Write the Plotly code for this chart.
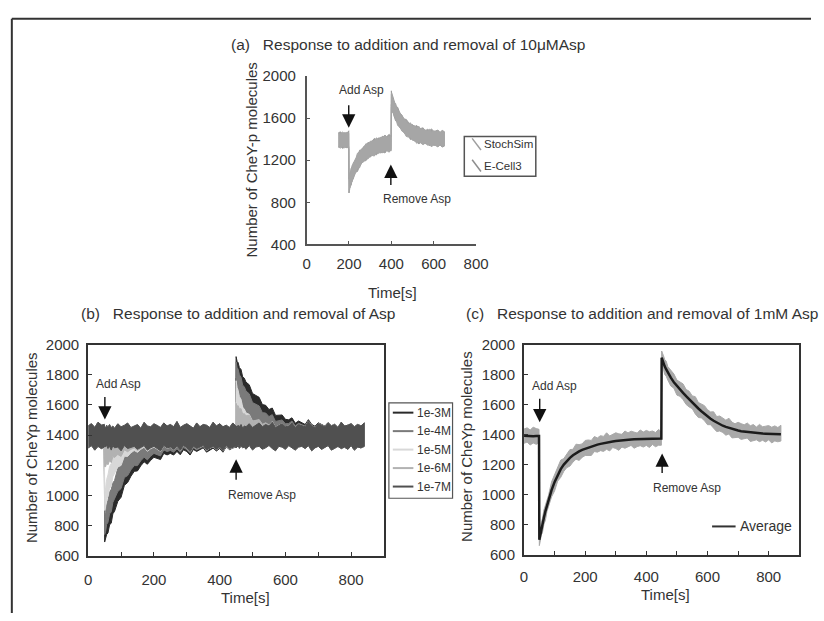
import plotly.graph_objects as go

W, H = 824, 621
FONT = "Liberation Sans, Arial, sans-serif"
TXT = "#333333"

def px(x):
    return x / W

def py(y):
    return 1 - y / H

# ---------------- (a) data: 10uM Asp, StochSim vs E-Cell3 ----------------
a_time = [150, 160, 170, 180, 190, 199,
          200, 202, 205, 210, 215, 220, 230, 240, 250, 260, 270, 280, 290, 300,
          310, 320, 330, 340, 350, 360, 370, 380, 390, 399,
          400, 402, 405, 410, 415, 420, 430, 440, 450, 460, 470, 480, 490, 500,
          510, 520, 530, 540, 550, 560, 570, 580, 590, 600, 610, 620, 630, 640, 650]
a_stochsim = [1395, 1390, 1392, 1388, 1394, 1395,
              950, 975, 1005, 1040, 1070, 1097,
              1140, 1178, 1210, 1236, 1257, 1275, 1290, 1303, 1314, 1323, 1331, 1338, 1344, 1349, 1354, 1358, 1361,
              1364,
              1785, 1765, 1740, 1710, 1683, 1660,
              1618, 1584, 1555, 1530, 1509, 1492, 1477, 1465, 1455, 1446, 1439, 1433, 1428, 1423, 1419, 1416,
              1413, 1411, 1409, 1407, 1406, 1405, 1404]
a_ecell3 = [1390, 1396, 1388, 1393, 1390, 1392,
            960, 985, 1012, 1045, 1075, 1100,
            1145, 1182, 1213, 1240, 1260, 1278, 1292, 1305, 1316, 1325, 1333, 1339, 1345, 1350, 1355, 1359, 1362,
            1365,
            1775, 1758, 1735, 1705, 1680, 1656,
            1615, 1580, 1552, 1528, 1507, 1490, 1476, 1464, 1454, 1445, 1438, 1432, 1427, 1422, 1418, 1415,
            1412, 1410, 1408, 1406, 1405, 1404, 1403]
# noise envelope above / below the trace
a_noise_up = [65, 80, 55, 75, 60, 85, 70, 55, 75, 60,
              80, 65, 70, 55, 85, 60, 75, 65, 80, 55,
              70, 85, 60, 75, 65, 80, 55, 70, 85, 60,
              75, 65, 80, 60, 70, 55, 85, 65, 75, 60,
              80, 70, 55, 75, 65, 85, 60, 70, 80, 55,
              75, 65, 85, 60, 70, 80, 55, 75, 65]
a_noise_dn = [70, 55, 80, 60, 75, 65, 60, 70, 55, 80,
              60, 75, 55, 85, 65, 70, 60, 80, 55, 75,
              65, 60, 80, 55, 75, 70, 85, 60, 65, 75,
              55, 80, 65, 70, 60, 85, 55, 75, 60, 70,
              65, 55, 80, 60, 75, 60, 85, 55, 70, 65,
              60, 80, 55, 70, 65, 75, 60, 80, 70]

# ---------------- (b)/(c) shared time grid ----------------
g_time = [0, 10, 20, 30, 40, 49,
          50, 53, 56, 60, 65, 70, 75, 80,
          90, 100, 110, 120, 130, 140, 150, 160, 170, 180, 190, 200, 210, 220, 230, 240, 250, 260,
          270, 280, 290, 300, 310, 320, 330, 340, 350, 360, 370, 380, 390, 400, 410, 420, 430, 440,
          449,
          450, 453, 456, 460, 465, 470, 475, 480,
          490, 500, 510, 520, 530, 540, 550, 560, 570, 580, 590, 600, 610, 620, 630, 640, 650, 660,
          670, 680, 690, 700, 710, 720, 730, 740, 750, 760, 770, 780, 790, 800, 810, 820, 830, 840]

b_labels = ["1e-3M", "1e-4M", "1e-5M", "1e-6M", "1e-7M"]
b_1e3 = ([1390, 1390, 1390, 1390, 1390, 1390] +
         [750, 770, 795, 830, 870, 905, 938, 968] +
         [1030, 1082, 1126, 1165, 1197, 1224, 1247, 1266, 1282, 1296, 1307, 1317, 1325, 1332, 1338, 1343,
          1348, 1352, 1356, 1359, 1362, 1365, 1367, 1369, 1371, 1373, 1375, 1376, 1377, 1378, 1379, 1380,
          1381, 1382, 1383, 1384] + [1384] +
         [1850, 1828, 1806, 1782, 1755, 1730, 1707, 1686] +
         [1648, 1615, 1586, 1560, 1537, 1517, 1499, 1484, 1470, 1458, 1448, 1439, 1431, 1424, 1418, 1413,
          1409, 1405, 1402, 1400, 1398, 1396, 1395, 1394, 1393, 1392, 1391,
          1390, 1390, 1390, 1390, 1390, 1390, 1390, 1390, 1390])
b_1e4 = ([1390, 1390, 1390, 1390, 1390, 1390] +
         [800, 830, 862, 900, 942, 980, 1013, 1043] +
         [1095, 1140, 1178, 1211, 1239, 1262, 1282, 1299, 1313, 1325, 1335, 1343, 1350, 1356, 1361, 1365,
          1368, 1371, 1373, 1375, 1377, 1378, 1379, 1380, 1381, 1382, 1383, 1384, 1385, 1385, 1386, 1386,
          1387, 1387, 1388, 1388] + [1388] +
         [1815, 1788, 1762, 1734, 1703, 1675, 1650, 1627] +
         [1588, 1555, 1527, 1503, 1483, 1466, 1452, 1440, 1430, 1422, 1415, 1410, 1406, 1403, 1400, 1398,
          1396, 1395, 1394, 1393, 1392, 1392, 1391, 1391, 1391, 1390, 1390,
          1390, 1390, 1390, 1390, 1390, 1390, 1390, 1390, 1390])
b_1e5 = ([1390, 1390, 1390, 1390, 1390, 1390] +
         [960, 995, 1030, 1070, 1112, 1150, 1183, 1212] +
         [1258, 1293, 1319, 1338, 1352, 1362, 1370, 1375, 1379, 1382, 1384, 1385, 1386, 1387, 1388, 1388,
          1388, 1389, 1389, 1389, 1389, 1389, 1389, 1389, 1389, 1389, 1389, 1389, 1389, 1389, 1389, 1389,
          1389, 1389, 1389, 1389] + [1389] +
         [1690, 1655, 1622, 1590, 1557, 1528, 1503, 1482] +
         [1452, 1431, 1417, 1408, 1401, 1397, 1394, 1392, 1391, 1390, 1390, 1390, 1390, 1390, 1390, 1390,
          1390, 1390, 1390, 1390, 1390, 1390, 1390, 1390, 1390, 1390, 1390,
          1390, 1390, 1390, 1390, 1390, 1390, 1390, 1390, 1390])
b_1e6 = ([1390, 1390, 1390, 1390, 1390, 1390] +
         [1250, 1260, 1270, 1282, 1295, 1307, 1317, 1326] +
         [1341, 1353, 1362, 1369, 1375, 1379, 1382, 1384, 1386, 1387, 1388, 1389, 1390, 1390, 1390, 1390,
          1390, 1390, 1390, 1390, 1390, 1390, 1390, 1390, 1390, 1390, 1390, 1390, 1390, 1390, 1390, 1390,
          1390, 1390, 1390, 1390] + [1390] +
         [1540, 1530, 1520, 1508, 1495, 1483, 1472, 1462] +
         [1446, 1432, 1421, 1413, 1406, 1401, 1397, 1394, 1392, 1391, 1390, 1390, 1390, 1390, 1390, 1390,
          1390, 1390, 1390, 1390, 1390, 1390, 1390, 1390, 1390, 1390, 1390,
          1390, 1390, 1390, 1390, 1390, 1390, 1390, 1390, 1390])
b_1e7 = ([1390, 1390, 1390, 1390, 1390, 1390] +
         [1390, 1390, 1390, 1390, 1390, 1390, 1390, 1390] +
         [1390] * 36 + [1390] +
         [1390, 1390, 1390, 1390, 1390, 1390, 1390, 1390] +
         [1390] * 36)
b_series = [b_1e3, b_1e4, b_1e5, b_1e6, b_1e7]
b_colors = ["#2a2a2a", "#7a7a7a", "#d8d8d8", "#b2b2b2", "#505050"]
b_noise_up = [70, 85, 60, 95, 75, 80, 70, 55, 75, 65,
              80, 60, 70, 55, 85, 65, 75, 90, 60, 70,
              80, 55, 95, 70, 65, 85, 75, 60, 90, 70,
              80, 65, 100, 60, 75, 85, 70, 55, 90, 65,
              80, 75, 60, 95, 70, 85, 65, 75, 60, 90,
              70, 70, 60, 75, 65, 80, 55, 70, 65, 85,
              60, 75, 90, 65, 80, 70, 95, 60, 75, 85,
              65, 70, 90, 60, 80, 75, 65, 100, 70, 60,
              85, 75, 65, 90, 70, 80, 60, 95, 70, 75,
              85, 65, 80, 70, 90]
b_noise_dn = [75, 60, 90, 65, 80, 70, 60, 70, 55, 80,
              65, 90, 60, 75, 70, 95, 60, 80, 70, 65,
              85, 70, 60, 90, 75, 65, 80, 95, 60, 75,
              70, 85, 65, 90, 60, 75, 100, 65, 80, 70,
              60, 90, 75, 65, 85, 70, 95, 60, 80, 70,
              65, 75, 70, 60, 80, 65, 75, 70, 85, 60,
              90, 70, 65, 85, 75, 60, 80, 95, 65, 70,
              85, 60, 75, 90, 70, 65, 80, 60, 95, 75,
              65, 85, 70, 60, 90, 75, 65, 80, 70, 85,
              60, 90, 70, 75, 65]

c_average = ([1392, 1390, 1391, 1389, 1390, 1390] +
             [700, 735, 765, 800, 848, 890, 928, 960] +
             [1030, 1085, 1130, 1170, 1200, 1225, 1245, 1262, 1276, 1288, 1298, 1306, 1314, 1321, 1327, 1333,
              1338, 1343, 1347, 1351, 1354, 1357, 1360, 1362, 1364, 1366, 1368, 1369, 1370, 1371, 1372, 1373,
              1374, 1374, 1374, 1374] + [1374] +
             [1912, 1893, 1875, 1855, 1834, 1814, 1796, 1779] +
             [1749, 1723, 1700, 1678, 1656, 1634, 1613, 1593, 1574, 1556, 1538, 1521, 1506, 1492, 1480, 1469,
              1459, 1451, 1444, 1438, 1432, 1427, 1423, 1420, 1417, 1414, 1412,
              1410, 1408, 1407, 1406, 1405, 1404, 1403, 1402, 1402])
c_spread_up = [45, 55, 40, 60, 50, 45, 50, 35, 45, 40,
               50, 40, 45, 35, 55, 45, 50, 60, 40, 45,
               55, 40, 60, 45, 40, 55, 50, 40, 60, 45,
               55, 45, 65, 40, 50, 55, 45, 40, 60, 45,
               55, 50, 40, 60, 45, 55, 45, 50, 40, 60,
               45, 45, 40, 50, 45, 55, 40, 45, 45, 55,
               40, 50, 60, 45, 55, 45, 60, 40, 50, 55,
               45, 45, 60, 40, 55, 50, 45, 65, 45, 40,
               55, 50, 45, 60, 45, 55, 40, 60, 45, 50,
               55, 45, 55, 45, 60]
c_spread_dn = [50, 40, 60, 45, 55, 45, 40, 45, 35, 55,
               45, 60, 40, 50, 45, 60, 40, 55, 45, 45,
               55, 45, 40, 60, 50, 45, 55, 60, 40, 50,
               45, 55, 45, 60, 40, 50, 65, 45, 55, 45,
               40, 60, 50, 45, 55, 45, 60, 40, 55, 45,
               45, 50, 45, 40, 55, 45, 50, 45, 55, 40,
               60, 45, 45, 55, 50, 40, 55, 60, 45, 45,
               55, 40, 50, 60, 45, 45, 55, 40, 60, 50,
               45, 55, 45, 40, 60, 50, 45, 55, 45, 55,
               40, 60, 45, 50, 45]

for arr in [a_stochsim, a_ecell3, a_noise_up, a_noise_dn]:
    assert len(arr) == len(a_time), (len(arr), len(a_time))
for arr in b_series + [b_noise_up, b_noise_dn, c_average, c_spread_up, c_spread_dn]:
    assert len(arr) == len(g_time), (len(arr), len(g_time))

fig = go.Figure()


def band(t, mean, up, dn, color, xa, ya, name):
    upper = [m + u for m, u in zip(mean, up)]
    lower = [m - d for m, d in zip(mean, dn)]
    fig.add_trace(go.Scatter(
        x=list(t) + list(t)[::-1], y=upper + lower[::-1],
        fill="toself", fillcolor=color, mode="lines",
        line=dict(color=color, width=1), xaxis=xa, yaxis=ya,
        name=name, showlegend=False, hoverinfo="skip"))


# (a)
band(a_time, a_stochsim, a_noise_up, a_noise_dn, "#9e9e9e", "x", "y", "StochSim")
band(a_time, a_ecell3, a_noise_dn, a_noise_up, "#a6a6a6", "x", "y", "E-Cell3")
# (b)
for lab, ser, col in zip(b_labels, b_series, b_colors):
    band(g_time, ser, b_noise_up, b_noise_dn, col, "x2", "y2", lab)
# (c)
band(g_time, c_average, c_spread_up, c_spread_dn, "#a9a9a9", "x3", "y3", "runs")
fig.add_trace(go.Scatter(x=g_time, y=c_average, mode="lines",
                         line=dict(color="#1c1c1c", width=2.5),
                         xaxis="x3", yaxis="y3", showlegend=False, name="Average"))


def xax(domain, rng, anchor, lw, lc, mirror, minor, size=15, standoff=7):
    d = dict(domain=domain, range=rng, anchor=anchor, tickvals=[0, 200, 400, 600, 800],
             ticks="inside", ticklen=4, tickcolor=lc, showline=True, linecolor=lc,
             linewidth=lw, mirror=mirror, showgrid=False, zeroline=False,
             tickfont=dict(family=FONT, size=size, color=TXT), ticklabelstandoff=standoff,
             fixedrange=True)
    if minor:
        d["minor"] = dict(tickvals=[100, 300, 500, 700], ticks="inside", ticklen=4, tickcolor=lc)
    return d


def yax(domain, rng, anchor, dtick, lw, lc, mirror, size=15, standoff=4):
    return dict(domain=domain, range=rng, anchor=anchor, dtick=dtick, tick0=rng[0],
                ticks="inside", ticklen=4, tickcolor=lc, showline=True, linecolor=lc,
                linewidth=lw, mirror=mirror, showgrid=False, zeroline=False,
                tickfont=dict(family=FONT, size=size, color=TXT), ticklabelstandoff=standoff,
                fixedrange=True)


fig.update_layout(
    width=W, height=H, autosize=False,
    margin=dict(l=0, r=0, t=0, b=0),
    paper_bgcolor="white", plot_bgcolor="white",
    showlegend=False,
    xaxis=xax([px(309), px(482)], [0, 800], "y", 1.5, "#555555", False, False, size=15, standoff=5),
    yaxis=yax([py(242), py(69)], [400, 2000], "x", 400, 1.5, "#555555", False, size=15, standoff=6),
    xaxis2=xax([px(86), px(388)], [0, 900], "y2", 2, "#333333", True, True, standoff=9),
    yaxis2=yax([py(562), py(345)], [600, 2000], "x2", 200, 2, "#333333", True),
    xaxis3=xax([px(531), px(812)], [0, 900], "y3", 2, "#333333", True, True, standoff=7),
    yaxis3=yax([py(561), py(345)], [600, 2000], "x3", 200, 2, "#333333", True),
)


def text(x, y, s, size=15, anchor="center", angle=0):
    fig.add_annotation(x=px(x), y=py(y), xref="paper", yref="paper", text=s,
                       showarrow=False, xanchor=anchor, yanchor="middle", textangle=angle,
                       font=dict(family=FONT, size=size, color=TXT))


def arrow(tx, ty, sx, sy):
    fig.add_annotation(x=px(tx), y=py(ty), xref="paper", yref="paper",
                       ax=sx - tx, ay=sy - ty, axref="pixel", ayref="pixel",
                       text="", showarrow=True, arrowhead=2, arrowsize=1.9,
                       arrowwidth=1.4, arrowcolor="#111111", standoff=0)


NB = "\u00a0"
# titles
text(230, 37, "(a)" + NB * 3 + "Response to addition and removal of 10μMAsp", 15.5, "left")
text(77, 313, "(b)" + NB * 3 + "Response to addition and removal of Asp", 15.5, "left")
text(470, 313, "(c)" + NB * 3 + "Response to addition and removal of 1mM Asp", 15.5, "left")
# axis titles
text(253, 155, "Number of CheY-p molecules", 15, angle=-90)
text(28, 451, "Number of CheYp molecules", 15, angle=-90)
text(472, 450, "Number of CheYp molecules", 15, angle=-90)
text(397, 291, "Time[s]", 15)
text(247, 605, "Time[s]", 15)
text(675, 602, "Time[s]", 15)

# event annotations
text(365, 83, "Add Asp", 12)
arrow(352, 122, 352, 98)
text(422, 195, "Remove Asp", 12)
arrow(395, 160, 395, 182)

text(117, 386, "Add Asp", 12)
arrow(103, 422, 103, 398)
text(263, 500, "Remove Asp", 12)
arrow(237, 463, 237, 485)

text(562, 388, "Add Asp", 12)
arrow(547, 425, 547, 400)
text(697, 492, "Remove Asp", 12)
arrow(672, 457, 672, 478)

shapes = []
# outer frame
shapes.append(dict(type="line", xref="paper", yref="paper", x0=px(8), y0=py(10), x1=1, y1=py(10),
                   line=dict(color="#333333", width=2)))
shapes.append(dict(type="line", xref="paper", yref="paper", x0=px(8), y0=py(10), x1=px(8), y1=0,
                   line=dict(color="#333333", width=2)))

# legend (a)
a_legend = [("StochSim", "#9e9e9e", 139), ("E-Cell3", "#8e8e8e", 161)]
shapes.append(dict(type="rect", xref="paper", yref="paper", x0=px(470), y0=py(172), x1=px(543), y1=py(131),
                   line=dict(color="#555555", width=1.5), fillcolor="rgba(0,0,0,0)"))
for lab, col, yy in a_legend:
    shapes.append(dict(type="line", xref="paper", yref="paper", x0=px(478), y0=py(yy - 6),
                       x1=px(487), y1=py(yy + 6), line=dict(color=col, width=1.5)))
    text(488, yy, lab, 11.5, "left")

# legend (b)
shapes.append(dict(type="rect", xref="paper", yref="paper", x0=px(393), y0=py(503), x1=px(458), y1=py(405),
                   line=dict(color="#555555", width=1.2), fillcolor="white"))
for i, (lab, col) in enumerate(zip(b_labels, b_colors)):
    yy = 415 + i * 19
    shapes.append(dict(type="line", xref="paper", yref="paper", x0=px(397), y0=py(yy),
                       x1=px(418), y1=py(yy), line=dict(color=col, width=2)))
    text(420, yy, lab, 12, "left")

# legend (c)
shapes.append(dict(type="line", xref="paper", yref="paper", x0=px(723), y0=py(532), x1=px(747), y1=py(532),
                   line=dict(color="#333333", width=2)))
text(749, 532, "Average", 14, "left")

fig.update_layout(shapes=shapes)
fig.write_html("out.html")
